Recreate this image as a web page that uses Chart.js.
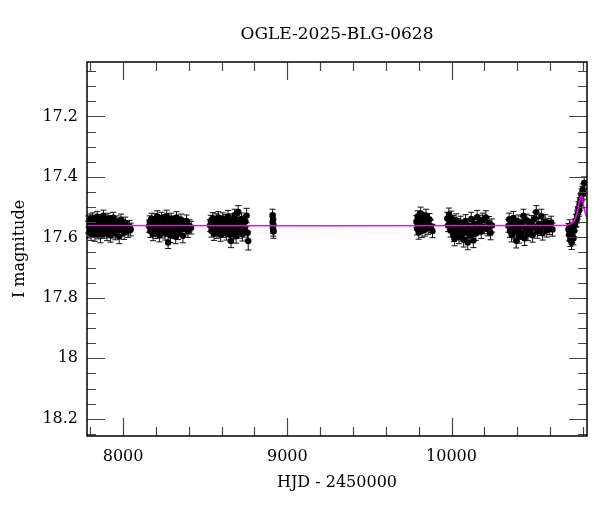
<!DOCTYPE html>
<html>
<head>
  <title>OGLE-2025-BLG-0628</title>
  <script src="https://cdn.jsdelivr.net/npm/chart.js"></script>
  <style>
    html, body { margin: 0; padding: 0; background: #fff; }
    #wrap { width: 600px; height: 512px; }
  </style>
</head>
<body>
  <div id="wrap"><canvas id="chart"></canvas></div>

  <script>
    // photometry per season: [HJD - 2450000, I mag, error]
    const season1 = [[7786,17.566,0.02],[7789,17.548,0.019],[7792,17.581,0.021],[7795,17.559,0.02],[7799,17.541,0.018],[7802,17.572,0.02],[7805,17.588,0.022],[7808,17.553,0.019],[7811,17.566,0.02],[7815,17.537,0.018],[7818,17.579,0.021],[7821,17.561,0.02],[7825,17.546,0.019],[7828,17.591,0.022],[7831,17.569,0.02],[7835,17.552,0.019],[7838,17.575,0.021],[7842,17.532,0.018],[7845,17.563,0.02],[7848,17.584,0.021],[7852,17.556,0.019],[7855,17.571,0.02],[7859,17.543,0.019],[7862,17.595,0.023],[7866,17.558,0.02],[7869,17.576,0.021],[7873,17.549,0.019],[7876,17.565,0.02],[7880,17.528,0.018],[7884,17.582,0.021],[7887,17.561,0.02],[7891,17.545,0.019],[7894,17.573,0.021],[7898,17.557,0.02],[7902,17.589,0.022],[7905,17.566,0.02],[7909,17.538,0.018],[7913,17.578,0.021],[7916,17.553,0.019],[7920,17.569,0.02],[7924,17.593,0.023],[7928,17.547,0.019],[7932,17.562,0.02],[7936,17.581,0.021],[7940,17.535,0.018],[7944,17.568,0.02],[7948,17.555,0.019],[7952,17.586,0.022],[7957,17.571,0.02],[7961,17.548,0.019],[7966,17.576,0.021],[7971,17.559,0.02],[7976,17.597,0.024],[7981,17.564,0.02],[7987,17.542,0.019],[7993,17.574,0.021],[7999,17.561,0.02],[8006,17.585,0.022],[8013,17.552,0.019],[8021,17.569,0.021],[8030,17.578,0.022],[8039,17.564,0.02],[8046,17.574,0.021]];
    const season2 = [[8158,17.563,0.02],[8162,17.548,0.019],[8166,17.579,0.021],[8170,17.556,0.02],[8174,17.538,0.018],[8178,17.571,0.021],[8182,17.589,0.022],[8186,17.552,0.019],[8190,17.566,0.02],[8195,17.541,0.019],[8199,17.583,0.021],[8203,17.561,0.02],[8208,17.531,0.019],[8212,17.574,0.021],[8216,17.558,0.02],[8221,17.592,0.023],[8225,17.547,0.019],[8229,17.568,0.02],[8234,17.536,0.019],[8238,17.581,0.021],[8243,17.555,0.02],[8247,17.572,0.021],[8252,17.544,0.019],[8256,17.587,0.022],[8261,17.563,0.02],[8265,17.529,0.019],[8270,17.576,0.021],[8274,17.617,0.02],[8279,17.551,0.02],[8283,17.569,0.021],[8288,17.594,0.023],[8292,17.539,0.019],[8297,17.565,0.02],[8301,17.582,0.021],[8306,17.548,0.019],[8311,17.573,0.021],[8315,17.557,0.02],[8320,17.598,0.023],[8325,17.534,0.019],[8330,17.567,0.02],[8335,17.585,0.022],[8340,17.553,0.02],[8346,17.576,0.021],[8352,17.542,0.019],[8358,17.561,0.02],[8364,17.595,0.023],[8371,17.558,0.02],[8378,17.571,0.021],[8386,17.546,0.02],[8395,17.579,0.021],[8405,17.562,0.02],[8414,17.568,0.021]];
    const season3 = [[8530,17.561,0.02],[8534,17.546,0.019],[8538,17.578,0.021],[8542,17.555,0.02],[8546,17.537,0.019],[8550,17.571,0.021],[8554,17.588,0.022],[8558,17.552,0.02],[8563,17.566,0.02],[8567,17.541,0.019],[8571,17.582,0.021],[8576,17.559,0.02],[8580,17.534,0.019],[8585,17.574,0.021],[8589,17.562,0.02],[8594,17.591,0.022],[8598,17.549,0.02],[8603,17.569,0.021],[8607,17.538,0.019],[8612,17.579,0.021],[8616,17.556,0.02],[8621,17.573,0.021],[8625,17.545,0.02],[8630,17.587,0.022],[8634,17.564,0.02],[8639,17.531,0.02],[8643,17.576,0.021],[8648,17.553,0.02],[8652,17.592,0.023],[8657,17.612,0.022],[8661,17.568,0.021],[8666,17.542,0.02],[8670,17.583,0.022],[8675,17.557,0.02],[8679,17.527,0.02],[8684,17.572,0.021],[8688,17.596,0.023],[8693,17.548,0.02],[8697,17.566,0.021],[8701,17.516,0.021],[8706,17.581,0.022],[8711,17.554,0.02],[8716,17.574,0.021],[8721,17.539,0.02],[8727,17.589,0.023],[8733,17.561,0.021],[8739,17.577,0.022],[8745,17.547,0.02],[8752,17.528,0.024],[8758,17.585,0.023],[8762,17.612,0.03]];
    const season4 = [[8910,17.527,0.02],[8911,17.551,0.019],[8912,17.566,0.021],[8913,17.542,0.02],[8914,17.575,0.021],[8915,17.559,0.02],[8916,17.581,0.022]];
    const season5 = [[9786,17.548,0.02],[9790,17.571,0.021],[9793,17.532,0.02],[9797,17.559,0.021],[9800,17.584,0.022],[9804,17.541,0.02],[9808,17.566,0.021],[9812,17.521,0.021],[9816,17.553,0.02],[9820,17.578,0.022],[9824,17.537,0.02],[9829,17.562,0.021],[9834,17.546,0.02],[9839,17.574,0.022],[9845,17.528,0.021],[9851,17.557,0.02],[9858,17.569,0.021],[9866,17.541,0.02],[9875,17.563,0.021],[9884,17.579,0.022]];
    const season6 = [[9974,17.538,0.021],[9979,17.561,0.02],[9984,17.525,0.022],[9989,17.553,0.021],[9994,17.577,0.022],[9999,17.534,0.021],[10004,17.566,0.021],[10009,17.548,0.02],[10014,17.592,0.022],[10018,17.605,0.023],[10023,17.571,0.021],[10028,17.543,0.021],[10034,17.586,0.022],[10039,17.559,0.021],[10045,17.598,0.023],[10050,17.574,0.022],[10056,17.551,0.021],[10062,17.589,0.023],[10068,17.565,0.021],[10074,17.608,0.024],[10080,17.578,0.022],[10086,17.546,0.021],[10093,17.583,0.022],[10099,17.617,0.024],[10106,17.562,0.021],[10113,17.594,0.023],[10120,17.539,0.022],[10127,17.575,0.022],[10133,17.61,0.024],[10140,17.555,0.021],[10148,17.587,0.023],[10156,17.533,0.022],[10164,17.569,0.022],[10172,17.548,0.021],[10181,17.581,0.023],[10190,17.542,0.022],[10199,17.566,0.022],[10209,17.534,0.022],[10219,17.573,0.022],[10229,17.552,0.021],[10238,17.585,0.023],[10246,17.561,0.022]];
    const season7 = [[10346,17.562,0.021],[10351,17.541,0.021],[10356,17.578,0.022],[10361,17.553,0.021],[10366,17.592,0.023],[10371,17.568,0.021],[10377,17.536,0.022],[10382,17.583,0.022],[10388,17.559,0.021],[10394,17.611,0.024],[10400,17.574,0.022],[10406,17.547,0.021],[10412,17.596,0.023],[10418,17.565,0.021],[10424,17.585,0.022],[10431,17.551,0.021],[10438,17.529,0.022],[10445,17.603,0.024],[10452,17.571,0.022],[10459,17.544,0.021],[10466,17.588,0.023],[10473,17.561,0.021],[10480,17.576,0.022],[10487,17.549,0.021],[10494,17.593,0.023],[10501,17.566,0.022],[10508,17.538,0.021],[10516,17.517,0.022],[10523,17.581,0.022],[10531,17.556,0.021],[10539,17.572,0.022],[10547,17.53,0.023],[10555,17.586,0.023],[10563,17.562,0.021],[10571,17.547,0.022],[10580,17.577,0.022],[10589,17.558,0.021],[10598,17.569,0.022],[10607,17.551,0.021],[10615,17.574,0.022]];
    const season8 = [[10712,17.574,0.02],[10716,17.591,0.021],[10719,17.562,0.02],[10723,17.608,0.022],[10727,17.583,0.021],[10731,17.617,0.023],[10735,17.596,0.022],[10739,17.571,0.021],[10743,17.603,0.022],[10747,17.578,0.021],[10752,17.559,0.02],[10757,17.545,0.021],[10761,17.545,0.02],[10765,17.531,0.021],[10769,17.52,0.02],[10773,17.503,0.021],[10777,17.51,0.02],[10781,17.49,0.021],[10785,17.476,0.02],[10789,17.482,0.021],[10792,17.46,0.02],[10796,17.452,0.021],[10799,17.443,0.02],[10803,17.455,0.021],[10808,17.42,0.02]];

    // microlensing model curve
    const modelHjd = [7780, 10690, 10715, 10735, 10750, 10760, 10768, 10774, 10780, 10786, 10792, 10798, 10804, 10812, 10825];
    const modelMag = [17.561, 17.561, 17.558, 17.552, 17.542, 17.528, 17.51, 17.494, 17.476, 17.465, 17.464, 17.475, 17.494, 17.515, 17.537];

    const xTicks = [8000, 9000, 10000];
    const yTicks = [17.2, 17.4, 17.6, 17.8, 18, 18.2];

    const photometry = [].concat(season1, season2, season3, season4, season5, season6, season7, season8);
    const points = photometry.map(p => ({ x: p[0], y: p[1], err: p[2] }));
    const model = modelHjd.map((x, i) => ({ x, y: modelMag[i] }));

    Chart.defaults.font.family = "'DejaVu Serif', serif";
    Chart.defaults.font.size = 16;
    Chart.defaults.color = '#000';

    // error bars behind the points
    const errorBars = {
      id: 'errorBars',
      beforeDatasetsDraw(chart) {
        const { ctx, scales: { x, y } } = chart;
        ctx.save();
        ctx.strokeStyle = '#111';
        ctx.lineWidth = 1;
        ctx.beginPath();
        points.forEach(p => {
          const px = x.getPixelForValue(p.x);
          const y1 = y.getPixelForValue(p.y - p.err);
          const y2 = y.getPixelForValue(p.y + p.err);
          ctx.moveTo(px, y1); ctx.lineTo(px, y2);
          ctx.moveTo(px - 3, y1); ctx.lineTo(px + 3, y1);
          ctx.moveTo(px - 3, y2); ctx.lineTo(px + 3, y2);
        });
        ctx.stroke();
        ctx.restore();
      }
    };

    // box, inward ticks on all four sides, title
    const frame = {
      id: 'frame',
      afterDraw(chart) {
        const { ctx, chartArea: a, scales: { x, y } } = chart;
        ctx.save();
        ctx.strokeStyle = '#444';
        ctx.lineWidth = 1.2;
        ctx.beginPath();
        for (let v = 7800; v <= 10800; v += 200) {
          const px = Math.round(x.getPixelForValue(v)) + 0.5;
          const len = xTicks.includes(v) ? 18 : 9;
          ctx.moveTo(px, a.bottom); ctx.lineTo(px, a.bottom - len);
          ctx.moveTo(px, a.top); ctx.lineTo(px, a.top + len);
        }
        for (let i = 1; i <= 25; i++) {
          const v = 17 + i * 0.05;
          const py = Math.round(y.getPixelForValue(v)) + 0.5;
          const len = yTicks.some(t => Math.abs(t - v) < 1e-6) ? 18 : 9;
          ctx.moveTo(a.left, py); ctx.lineTo(a.left + len, py);
          ctx.moveTo(a.right, py); ctx.lineTo(a.right - len, py);
        }
        ctx.stroke();
        ctx.strokeStyle = '#000';
        ctx.lineWidth = 1.5;
        ctx.strokeRect(a.left, a.top, a.right - a.left, a.bottom - a.top);
        ctx.fillStyle = '#000';
        ctx.font = "17px 'DejaVu Serif', serif";
        ctx.textAlign = 'center';
        ctx.textBaseline = 'middle';
        ctx.fillText('OGLE-2025-BLG-0628', (a.left + a.right) / 2, 35);
        ctx.restore();
      }
    };

    new Chart(document.getElementById('chart'), {
      type: 'scatter',
      data: {
        datasets: [
          {
            type: 'line',
            data: model,
            borderColor: '#ff00ff',
            borderWidth: 1.5,
            pointRadius: 0,
            tension: 0.3,
            fill: false
          },
          {
            data: points,
            backgroundColor: '#000',
            borderWidth: 0,
            pointRadius: 3.2
          }
        ]
      },
      options: {
        responsive: true,
        maintainAspectRatio: false,
        animation: false,
        layout: { padding: { top: 62, right: 13, left: 0, bottom: 0 } },
        plugins: { legend: { display: false }, tooltip: { enabled: false } },
        scales: {
          x: {
            type: 'linear',
            min: 7780,
            max: 10825,
            grid: { display: false, drawTicks: false },
            border: { display: false },
            afterBuildTicks: s => { s.ticks = xTicks.map(v => ({ value: v })); },
            afterFit: s => { s.height = 76; },
            ticks: { padding: 11, maxRotation: 0, callback: v => String(v) },
            title: { display: true, text: 'HJD - 2450000', padding: { top: 0, bottom: 20 } }
          },
          y: {
            min: 17.02,
            max: 18.257,
            reverse: true,
            grid: { display: false, drawTicks: false },
            border: { display: false },
            afterBuildTicks: s => { s.ticks = yTicks.map(v => ({ value: v })); },
            afterFit: s => { s.width = 87; },
            ticks: { padding: 9, callback: v => String(v) },
            title: { display: true, text: 'I magnitude', padding: { top: 10, bottom: 0 } }
          }
        }
      },
      plugins: [errorBars, frame]
    });
  </script>
</body>
</html>
